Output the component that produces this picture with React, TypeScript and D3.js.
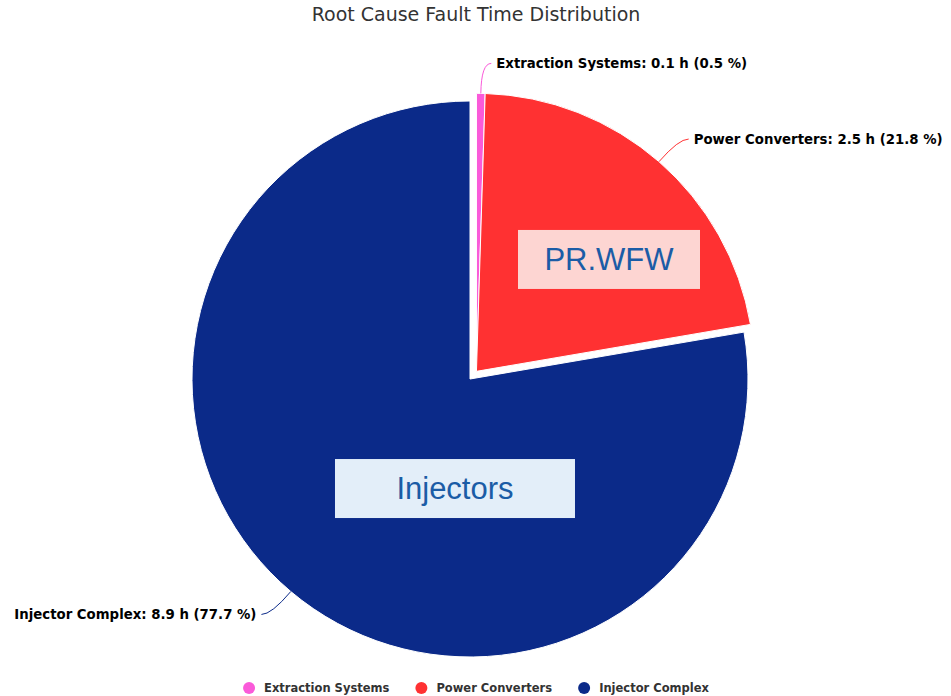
import React, { useEffect, useRef } from "react";
import * as d3 from "d3";

const categories = ["Extraction Systems", "Power Converters", "Injector Complex"];
const hours = [0.1, 2.5, 8.9];
const percents = [0.5, 21.8, 77.7];
const colors = ["#fa5ad9", "#ff3132", "#0b2a89"];
const sliced = [true, true, false];

const titleText = "Root Cause Fault Time Distribution";

const annotationTexts = ["PR.WFW", "Injectors"];
const annotationFills = ["#fdd5d2", "#e3eef9"];
// positions relative to pie centre, in units of pie radius
const annotationDx = [0.5, -0.054];
const annotationDy = [-0.43, 0.394];
const annotationW = [182, 240];
const annotationH = [59, 59];

const W = 951;
const H = 696;

export default function App() {
  const ref = useRef<SVGSVGElement | null>(null);

  useEffect(() => {
    const svg = d3.select(ref.current);
    svg.selectAll("*").remove();

    const cx = 470;
    const cy = 379;
    const r = 278;
    const labelDist = 30;
    const slicedOffset = 10;

    svg
      .append("text")
      .attr("x", 476)
      .attr("y", 21)
      .attr("text-anchor", "middle")
      .attr("font-family", "'DejaVu Sans', sans-serif")
      .attr("font-size", 19)
      .attr("fill", "#333333")
      .text(titleText);

    const pie = d3
      .pie<number>()
      .sort(null)
      .value((d) => d)
      .startAngle(0)
      .endAngle(2 * Math.PI);
    const arcs = pie(percents);
    const arcGen = d3.arc<d3.PieArcDatum<number>>().innerRadius(0).outerRadius(r);

    // sliced group offset direction
    const sl = arcs.filter((_, i) => sliced[i]);
    const gStart = d3.min(sl, (a) => a.startAngle) ?? 0;
    const gEnd = d3.max(sl, (a) => a.endAngle) ?? 0;
    const gMid = (gStart + gEnd) / 2;
    const offX = slicedOffset * Math.sin(gMid);
    const offY = -slicedOffset * Math.cos(gMid);

    const g = svg.append("g");
    arcs.forEach((a, i) => {
      const ox = sliced[i] ? offX : 0;
      const oy = sliced[i] ? offY : 0;
      g.append("path")
        .attr("d", arcGen(a) as string)
        .attr("transform", `translate(${cx + ox},${cy + oy})`)
        .attr("fill", colors[i])
        .attr("stroke", "#ffffff")
        .attr("stroke-width", 1)
        .attr("stroke-linejoin", "round");
    });

    // data labels with connectors
    arcs.forEach((a, i) => {
      const ox = sliced[i] ? offX : 0;
      const oy = sliced[i] ? offY : 0;
      const m = (a.startAngle + a.endAngle) / 2;
      const sx = Math.sin(m);
      const sy = -Math.cos(m);
      const p0 = [cx + ox + r * sx, cy + oy + r * sy];
      const A = [cx + ox + (r + labelDist) * sx, cy + oy + (r + labelDist) * sy];
      const side = sx >= 0 ? 1 : -1;
      const E = [A[0] + side * 10, A[1]];
      const path = d3.path();
      path.moveTo(p0[0], p0[1]);
      path.quadraticCurveTo(A[0], A[1], E[0], E[1]);
      svg
        .append("path")
        .attr("d", path.toString())
        .attr("fill", "none")
        .attr("stroke", colors[i])
        .attr("stroke-width", 1);
      svg
        .append("text")
        .attr("x", E[0] + side * 5)
        .attr("y", E[1])
        .attr("dy", "0.35em")
        .attr("text-anchor", side > 0 ? "start" : "end")
        .attr("font-family", "'DejaVu Sans', sans-serif")
        .attr("font-weight", "bold")
        .attr("font-size", 13.3)
        .attr("fill", "#000000")
        .text(`${categories[i]}: ${hours[i]} h (${percents[i]} %)`);
    });

    // annotations
    annotationTexts.forEach((t, i) => {
      const x = cx + annotationDx[i] * r;
      const y = cy + annotationDy[i] * r;
      svg
        .append("rect")
        .attr("x", x - annotationW[i] / 2)
        .attr("y", y - annotationH[i] / 2)
        .attr("width", annotationW[i])
        .attr("height", annotationH[i])
        .attr("fill", annotationFills[i]);
      svg
        .append("text")
        .attr("x", x)
        .attr("y", y)
        .attr("dy", "0.35em")
        .attr("text-anchor", "middle")
        .attr("font-family", "'Liberation Sans', Arial, sans-serif")
        .attr("font-size", 31)
        .attr("fill", "#1b5ca6")
        .text(t);
    });

    // legend
    const lg = svg.append("g");
    const items: { g: d3.Selection<SVGGElement, unknown, null, undefined>; w: number }[] = [];
    categories.forEach((c, i) => {
      const ig = lg.append("g");
      ig.append("circle").attr("cx", 6).attr("cy", 0).attr("r", 6).attr("fill", colors[i]);
      const tx = ig
        .append("text")
        .attr("x", 21)
        .attr("y", 0)
        .attr("dy", "0.35em")
        .attr("font-family", "'DejaVu Sans', sans-serif")
        .attr("font-weight", "bold")
        .attr("font-size", 11.5)
        .attr("fill", "#333333")
        .text(c);
      const tw = (tx.node() as SVGTextElement).getComputedTextLength();
      items.push({ g: ig, w: 21 + tw });
    });
    const gap = 26;
    const total = d3.sum(items, (d) => d.w) + gap * (items.length - 1);
    let x = 476 - total / 2;
    items.forEach((it) => {
      it.g.attr("transform", `translate(${x},688)`);
      x += it.w + gap;
    });
  }, []);

  return (
    <svg
      ref={ref}
      width={W}
      height={H}
      style={{ position: "absolute", left: 0, top: 0, display: "block", background: "#ffffff" }}
    />
  );
}
